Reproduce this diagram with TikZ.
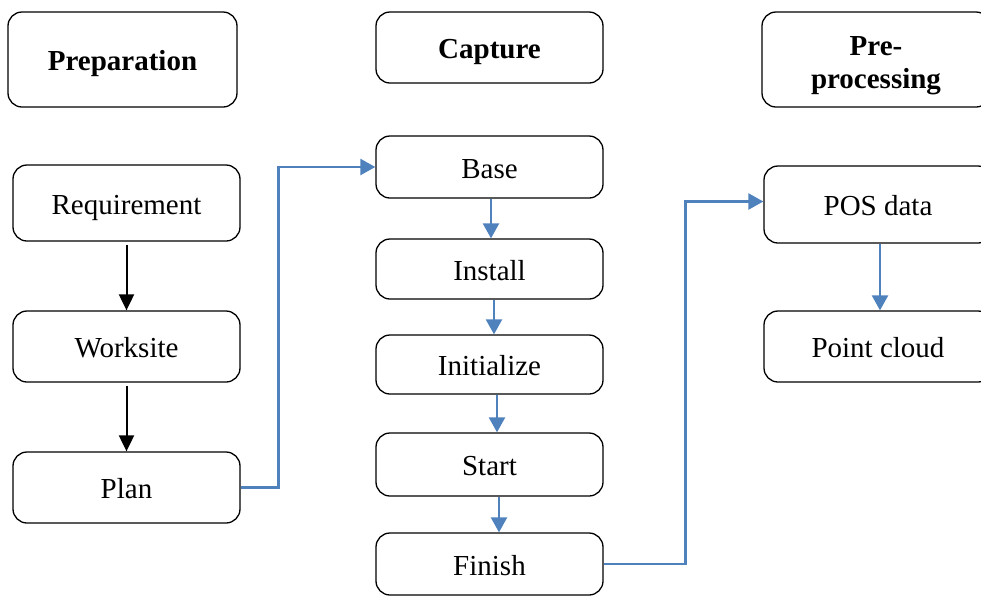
\documentclass[tikz,border=0pt]{standalone}
\usepackage{fontspec}
\setmainfont{Liberation Serif}
\usetikzlibrary{positioning, arrows.meta}

\definecolor{flowblue}{RGB}{79,129,189}

\begin{document}
\begin{tikzpicture}[
        x=0.5pt, y=-0.5pt,
        box/.style={rectangle, draw=black, line width=0.65pt, rounded corners=7pt,
            minimum width=113.5pt, inner sep=0pt, align=center,
            text height=11pt, text depth=0pt,
            font=\fontsize{14.5}{16.5}\selectfont},
        head/.style={box, font=\fontsize{14.5}{16.5}\selectfont\bfseries},
        karrow/.style={-{Triangle[length=8pt, width=7.5pt]}, line width=1pt, draw=black, shorten <=1.5pt},
        barrow/.style={-{Triangle[length=7.5pt, width=8pt]}, line width=1.2pt, draw=flowblue}
    ]
    \clip (0,0) rectangle (981,596);

    % headings
    \node[head, minimum height=47.5pt, minimum width=114.5pt] (prep) at (122.5,59.5) {Preparation};
    \node[head, minimum height=35.5pt] (capture) at (489.5,47.5) {Capture};
    \node[head, minimum height=47.5pt, minimum width=114pt, text height=29pt] (preproc) at (876,59.5) {Pre-\\processing};

    % preparation steps
    \node[box, minimum height=38pt] (req) at (126.5,203) {Requirement};
    \node[box, minimum height=35.5pt] (work) at (126.5,346.5) {Worksite};
    \node[box, minimum height=35.5pt] (plan) at (126.5,487.5) {Plan};

    % capture steps
    \node[box, minimum height=31pt] (base) at (489.5,167) {Base};
    \node[box, minimum height=30pt] (install) at (489.5,269) {Install};
    \node[box, minimum height=29.5pt] (init) at (489.5,364.5) {Initialize};
    \node[box, minimum height=31.5pt] (start) at (489.5,464.5) {Start};
    \node[box, minimum height=31pt] (finish) at (489.5,564) {Finish};

    % pre-processing steps
    \node[box, minimum height=38.5pt, minimum width=114pt] (posdata) at (878,204.5) {POS data};
    \node[box, minimum height=35.5pt, minimum width=114pt] (cloud) at (878,346.5) {Point cloud};

    \draw[karrow] (req) -- (work);
    \draw[karrow] (work) -- (plan);

    \draw[barrow] ([xshift=0.75pt]base.south) -- ([xshift=0.75pt]install.north);
    \draw[barrow] ([xshift=2.25pt]install.south) -- ([xshift=2.25pt]init.north);
    \draw[barrow] ([xshift=3.75pt]init.south) -- ([xshift=3.75pt]start.north);
    \draw[barrow] ([xshift=4.75pt]start.south) -- ([xshift=4.75pt]finish.north);
    \draw[barrow] ([xshift=1pt]posdata.south) -- ([xshift=1pt]cloud.north);

    % links between the columns
    \draw[barrow] (plan.east) -- ++(38,0) |- (base.west);
    \draw[barrow] (finish.east) -- ++(82,0) |- ([yshift=1.5pt]posdata.west);
\end{tikzpicture}
\end{document}
